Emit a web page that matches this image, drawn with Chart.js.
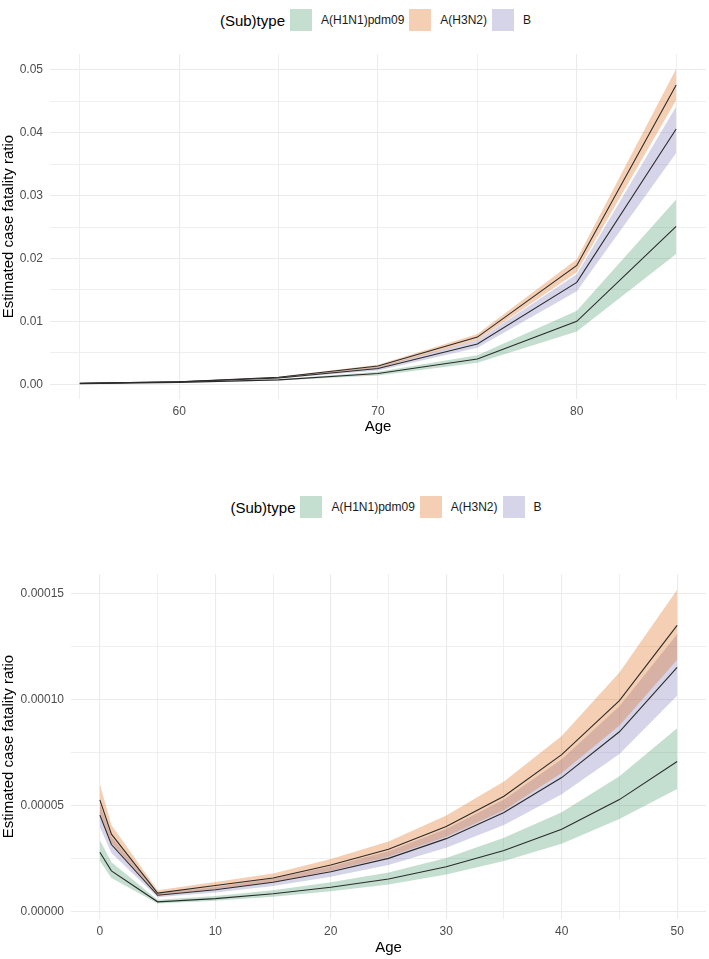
<!DOCTYPE html>
<html>
<head>
<meta charset="utf-8">
<script src="https://cdn.jsdelivr.net/npm/chart.js@4.4.0/dist/chart.umd.min.js"></script>
<style>
  body { margin:0; background:#fff; width:709px; height:959px; position:relative; overflow:hidden;
         font-family:"Liberation Sans", Arial, sans-serif; }
  .wrap { position:absolute; left:0; width:709px; }
  .legend { position:absolute; display:flex; justify-content:center; align-items:center; height:24px; }
  .legend .ttl { font-size:15px; color:#000; margin-right:5px; }
  .legend .key { width:22px; height:22px; margin-right:9px; }
  .legend .lab { font-size:12px; color:#1a1a1a; margin-right:5px; }
</style>
</head>
<body>

<div class="legend" id="legTop" style="left:50px; width:656px; top:8px;"></div>
<div class="wrap" style="top:40px; height:396px;"><canvas id="topChart" width="709" height="396"></canvas></div>

<div class="legend" id="legBot" style="left:71px; width:635px; top:495px;"></div>
<div class="wrap" style="top:560px; height:397px;"><canvas id="botChart" width="709" height="397"></canvas></div>

<script>
// 범례 / 색
const subtypes = ['A(H1N1)pdm09', 'A(H3N2)', 'B'];
const bandColours = ['rgba(60,150,100,0.3)', 'rgba(217,95,2,0.3)', 'rgba(117,112,179,0.3)'];

// 위 그래프 : 55세 이상
const agesOld = [55, 60, 65, 70, 75, 80, 85];
const h1n1Old   = [0.00010, 0.00030, 0.00070, 0.00170, 0.00400, 0.01000, 0.02510];
const h1n1OldLo = [0.00008, 0.00025, 0.00060, 0.00140, 0.00340, 0.00840, 0.02070];
const h1n1OldHi = [0.00012, 0.00036, 0.00080, 0.00200, 0.00460, 0.01170, 0.02940];
const h3n2Old   = [0.00015, 0.00040, 0.00110, 0.00290, 0.00750, 0.01890, 0.04760];
const h3n2OldLo = [0.00013, 0.00036, 0.00100, 0.00260, 0.00700, 0.01780, 0.04520];
const h3n2OldHi = [0.00017, 0.00044, 0.00120, 0.00310, 0.00800, 0.01990, 0.05020];
const bOld      = [0.00014, 0.00040, 0.00100, 0.00250, 0.00640, 0.01620, 0.04060];
const bOldLo    = [0.00012, 0.00035, 0.00090, 0.00220, 0.00580, 0.01480, 0.03680];
const bOldHi    = [0.00016, 0.00045, 0.00110, 0.00280, 0.00700, 0.01750, 0.04420];
const oldXGrid  = [55, 60, 65, 70, 75, 80, 85];
const oldXLabels = [60, 70, 80];
const oldYGrid  = [0, 0.005, 0.01, 0.015, 0.02, 0.025, 0.03, 0.035, 0.04, 0.045, 0.05];
const oldYLabels = [0, 0.01, 0.02, 0.03, 0.04, 0.05];

// 아래 그래프 : 0~50세
const agesYoung = [0, 1, 5, 10, 15, 20, 25, 30, 35, 40, 45, 50];
const h1n1Young   = [2.82e-5, 1.94e-5, 0.48e-5, 0.63e-5, 0.86e-5, 1.17e-5, 1.56e-5, 2.13e-5, 2.90e-5, 3.90e-5, 5.30e-5, 7.10e-5];
const h1n1YoungLo = [2.40e-5, 1.60e-5, 0.40e-5, 0.53e-5, 0.72e-5, 0.98e-5, 1.30e-5, 1.77e-5, 2.40e-5, 3.22e-5, 4.38e-5, 5.80e-5];
const h1n1YoungHi = [3.40e-5, 2.35e-5, 0.58e-5, 0.76e-5, 1.03e-5, 1.40e-5, 1.86e-5, 2.55e-5, 3.50e-5, 4.70e-5, 6.40e-5, 8.66e-5];
const h3n2Young   = [5.29e-5, 3.67e-5, 0.89e-5, 1.25e-5, 1.60e-5, 2.22e-5, 2.96e-5, 4.03e-5, 5.46e-5, 7.42e-5, 9.97e-5, 13.52e-5];
const h3n2YoungLo = [4.60e-5, 3.25e-5, 0.78e-5, 1.08e-5, 1.40e-5, 1.95e-5, 2.60e-5, 3.55e-5, 4.80e-5, 6.55e-5, 8.80e-5, 11.90e-5];
const h3n2YoungHi = [6.03e-5, 4.10e-5, 1.02e-5, 1.42e-5, 1.82e-5, 2.50e-5, 3.33e-5, 4.55e-5, 6.15e-5, 8.30e-5, 11.30e-5, 15.20e-5];
const bYoung      = [4.57e-5, 3.18e-5, 0.79e-5, 1.05e-5, 1.40e-5, 1.90e-5, 2.53e-5, 3.46e-5, 4.69e-5, 6.34e-5, 8.50e-5, 11.54e-5];
const bYoungLo    = [4.00e-5, 2.78e-5, 0.69e-5, 0.92e-5, 1.23e-5, 1.66e-5, 2.22e-5, 3.03e-5, 4.10e-5, 5.55e-5, 7.45e-5, 10.20e-5];
const bYoungHi    = [5.10e-5, 3.55e-5, 0.88e-5, 1.18e-5, 1.58e-5, 2.14e-5, 2.86e-5, 3.92e-5, 5.30e-5, 7.20e-5, 9.70e-5, 13.10e-5];
const youngXGrid  = [0, 5, 10, 15, 20, 25, 30, 35, 40, 45, 50];
const youngXLabels = [0, 10, 20, 30, 40, 50];
const youngYGrid  = [0, 2.5e-5, 5e-5, 7.5e-5, 10e-5, 12.5e-5, 15e-5];
const youngYLabels = [0, 5e-5, 10e-5, 15e-5];

const FONT = '"Liberation Sans", Arial, sans-serif';

// 범례 만들기 (HTML)
function makeLegend(id) {
  const el = document.getElementById(id);
  let html = '<span class="ttl">(Sub)type</span>';
  subtypes.forEach((s, i) => {
    html += `<span class="key" style="background:${bandColours[i]}"></span><span class="lab">${s}</span>`;
  });
  el.innerHTML = html;
}

const pts = (xs, ys) => xs.map((x, i) => ({x: x, y: ys[i]}));
const near = (list, v) => list.some(m => Math.abs(m - v) < 1e-12);

function makeChart(id, ages, mids, los, his, c) {
  let datasets = [];
  // 신뢰구간 리본 먼저
  for (let i = 0; i < mids.length; i++) {
    datasets.push({ data: pts(ages, los[i]), borderColor: 'rgba(0,0,0,0)', borderWidth: 0,
                    pointRadius: 0, fill: false });
    datasets.push({ data: pts(ages, his[i]), borderColor: 'rgba(0,0,0,0)', borderWidth: 0,
                    pointRadius: 0, fill: '-1', backgroundColor: bandColours[i] });
  }
  // 중앙값 선
  for (let i = 0; i < mids.length; i++) {
    datasets.push({ data: pts(ages, mids[i]), borderColor: '#2b2b2b', borderWidth: 1.1,
                    pointRadius: 0, fill: false, tension: 0 });
  }

  return new Chart(document.getElementById(id), {
    type: 'line',
    data: { datasets: datasets },
    options: {
      responsive: false,
      animation: false,
      layout: { padding: { top: c.padTop, right: 3, left: 0, bottom: 0 } },
      plugins: {
        legend: { display: false },
        tooltip: { enabled: false },
        filler: { drawTime: 'beforeDatasetsDraw' }
      },
      scales: {
        x: {
          type: 'linear', min: c.xMin, max: c.xMax,
          afterBuildTicks: s => { s.ticks = c.xGrid.map(v => ({value: v})); },
          afterFit: s => { s.height = c.xHeight; },
          ticks: { autoSkip: false, maxRotation: 0, padding: 5, color: '#4d4d4d',
                   font: { family: FONT, size: 12 },
                   callback: v => c.xLabels.includes(v) ? String(v) : '' },
          grid: { color: '#ebebeb', drawTicks: false,
                  lineWidth: ctx => (ctx.tick && c.xLabels.includes(ctx.tick.value)) ? 1.1 : 0.8 },
          border: { display: false },
          title: { display: true, text: 'Age', color: '#000', padding: 0,
                   font: { family: FONT, size: 15 } }
        },
        y: {
          type: 'linear', min: c.yMin, max: c.yMax,
          afterBuildTicks: s => { s.ticks = c.yGrid.map(v => ({value: v})); },
          afterFit: s => { s.width = c.yWidth; },
          ticks: { autoSkip: false, padding: 7, color: '#4d4d4d',
                   font: { family: FONT, size: 12 },
                   callback: v => near(c.yLabels, v) ? v.toFixed(c.digits) : '' },
          grid: { color: '#ebebeb', drawTicks: false,
                  lineWidth: ctx => (ctx.tick && near(c.yLabels, ctx.tick.value)) ? 1.1 : 0.8 },
          border: { display: false },
          title: { display: true, text: 'Estimated case fatality ratio', color: '#000',
                   padding: { top: 0, bottom: 0 }, font: { family: FONT, size: 15 } }
        }
      }
    }
  });
}

makeLegend('legTop');
makeLegend('legBot');

makeChart('topChart', agesOld,
  [h1n1Old, h3n2Old, bOld], [h1n1OldLo, h3n2OldLo, bOldLo], [h1n1OldHi, h3n2OldHi, bOldHi],
  { xMin: 53.5, xMax: 86.5, yMin: -0.00235, yMax: 0.0525,
    xGrid: oldXGrid, xLabels: oldXLabels, yGrid: oldYGrid, yLabels: oldYLabels, digits: 2,
    yWidth: 50, xHeight: 37, padTop: 8 });

makeChart('botChart', agesYoung,
  [h1n1Young, h3n2Young, bYoung], [h1n1YoungLo, h3n2YoungLo, bYoungLo], [h1n1YoungHi, h3n2YoungHi, bYoungHi],
  { xMin: -2.5, xMax: 52.5, yMin: -3.3e-6, yMax: 1.593e-4,
    xGrid: youngXGrid, xLabels: youngXLabels, yGrid: youngYGrid, yLabels: youngYLabels, digits: 5,
    yWidth: 71, xHeight: 38, padTop: 8 });
</script>
</body>
</html>
